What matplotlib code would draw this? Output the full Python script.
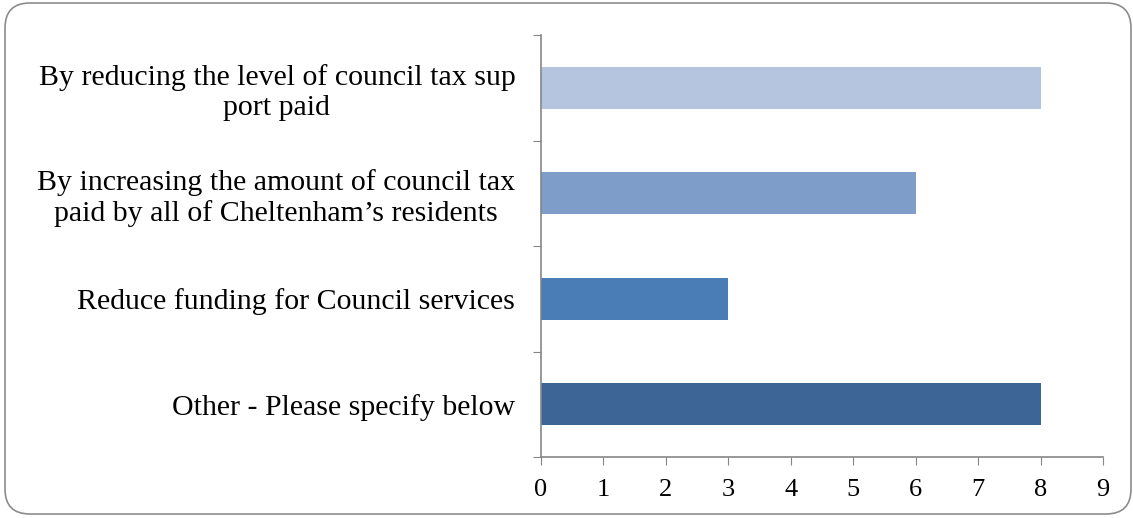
import matplotlib
matplotlib.use("Agg")
import matplotlib.pyplot as plt
from matplotlib.patches import FancyBboxPatch

categories = [
    "By reducing the level of council tax sup\nport paid",
    "By increasing the amount of council tax\npaid by all of Cheltenham\u2019s residents",
    "Reduce funding for Council services",
    "Other - Please specify below",
]
values = [8, 6, 3, 8]
colors = ["#B5C4DF", "#7F9DC9", "#4A7CB5", "#3D6697"]
xticks = list(range(0, 10))

plt.rcParams["font.family"] = ["Liberation Serif", "DejaVu Serif"]

fig = plt.figure(figsize=(11.33, 5.18), dpi=100)
ax = fig.add_axes([541/1133, 1-457/518, (1103-541)/1133, (457-35)/518])

ypos = list(range(len(categories)))
ax.barh(ypos, values, height=0.4, color=colors, zorder=2)
ax.set_ylim(len(categories) - 0.5, -0.5)
ax.set_xlim(0, 9)
ax.set_xticks(xticks)
ax.set_xticklabels([str(t) for t in xticks], fontsize=19)
ax.set_yticks([i - 0.5 for i in range(len(categories) + 1)], minor=False)
ax.set_yticklabels([])
ax.set_yticks(ypos, minor=True)
ax.set_yticklabels(categories, minor=True, fontsize=21.5, multialignment="center",
                   linespacing=1.18)
ax.tick_params(axis="y", which="minor", length=0, pad=18.5)
ax.tick_params(axis="y", which="major", length=6, direction="out", color="#868686")
ax.tick_params(axis="x", length=6, direction="out", color="#868686", pad=10)

for s in ["top", "right"]:
    ax.spines[s].set_visible(False)
for s in ["left", "bottom"]:
    ax.spines[s].set_color("#868686")
    ax.spines[s].set_linewidth(1.2)

border = FancyBboxPatch((5/1133, 4/518), (1131-5)/1133, (515-4)/518,
                        boxstyle="round,pad=0,rounding_size=0.022",
                        transform=fig.transFigure, fill=False,
                        edgecolor="#8C8C8C", linewidth=1.2,
                        mutation_aspect=1133/518)
fig.patches.append(border)

fig.savefig("out.png", dpi=100)
